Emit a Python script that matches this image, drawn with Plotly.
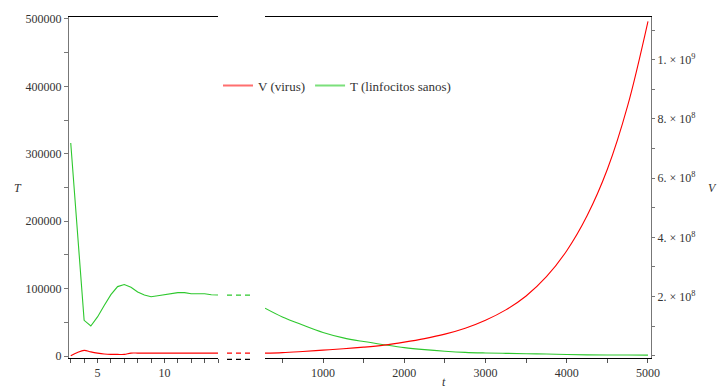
import plotly.graph_objects as go

# Early phase (days 3-14): healthy T lymphocytes and virus load
t_early = [3, 3.5, 4, 4.5, 5, 5.5, 6, 6.5, 7, 7.5, 8, 8.5, 9, 9.5, 10,
           10.5, 11, 11.5, 12, 12.5, 13, 13.5, 14]
T_early = [316000, 185000, 53000, 44500, 58000, 75000, 91000, 103000, 106000,
           102000, 95000, 90500, 88000, 89500, 91000, 92500, 94000, 94000,
           92500, 92500, 92500, 91000, 90500]
V_early = [0, 1.1e7, 1.8e7, 1.3e7, 9.0e6, 6.0e6, 4.6e6, 4.6e6, 4.6e6, 8.9e6,
           8.9e6, 8.9e6, 8.9e6, 8.9e6, 8.9e6, 8.9e6, 8.9e6, 8.9e6, 8.9e6,
           8.9e6, 8.9e6, 8.9e6, 8.9e6]

# Long-term phase (t up to 5000)
t_late = [286, 500, 750, 1000, 1250, 1500, 1750, 2000, 2250, 2500, 2750,
          3000, 3250, 3500, 3750, 4000, 4250, 4500, 4750, 5000]
T_late = [71000, 58000, 46000, 35000, 27000, 21500, 16800, 12500, 9500, 7200,
          5500, 4600, 4000, 3500, 3000, 2200, 1800, 1600, 1500, 1400]
V_late = [8.9e6, 1.06e7, 1.45e7, 1.9e7, 2.35e7, 2.9e7, 3.6e7, 4.6e7, 5.8e7,
          7.3e7, 9.3e7, 1.2e8, 1.55e8, 2.02e8, 2.67e8, 3.55e8, 4.73e8, 6.3e8,
          8.45e8, 1.13e9]

# Axis ticks
early_ticks = [5, 10]
late_ticks = [1000, 2000, 3000, 4000, 5000]
T_ticks = [0, 100000, 200000, 300000, 400000, 500000]
V_ticks = [2e8, 4e8, 6e8, 8e8, 1e9]
V_tick_text = ["2. × 10<sup>8</sup>", "4. × 10<sup>8</sup>", "6. × 10<sup>8</sup>",
               "8. × 10<sup>8</sup>", "1. × 10<sup>9</sup>"]

RED = "#ff0000"
GREEN = "#2ec82e"
FONT = "Liberation Serif, Times New Roman, serif"
TXT = "#333333"

fig = go.Figure()

# curves
fig.add_trace(go.Scatter(x=t_early, y=T_early, xaxis="x", yaxis="y", mode="lines",
                         line=dict(color=GREEN, width=1.1), showlegend=False))
fig.add_trace(go.Scatter(x=t_early, y=V_early, xaxis="x", yaxis="y2", mode="lines",
                         line=dict(color=RED, width=1.1, shape="spline"), showlegend=False))
fig.add_trace(go.Scatter(x=t_late, y=T_late, xaxis="x2", yaxis="y", mode="lines",
                         line=dict(color=GREEN, width=1.1, shape="spline"), showlegend=False))
fig.add_trace(go.Scatter(x=t_late, y=V_late, xaxis="x2", yaxis="y2", mode="lines",
                         line=dict(color=RED, width=1.1, shape="spline"), showlegend=False))

# dashed continuation across the axis break
fig.add_trace(go.Scatter(x=[0, 1], y=[T_early[-1]] * 2, xaxis="x3", yaxis="y", mode="lines",
                         line=dict(color=GREEN, width=1.3, dash="5px,4px"), showlegend=False))
fig.add_trace(go.Scatter(x=[0, 1], y=[V_early[-1]] * 2, xaxis="x3", yaxis="y2", mode="lines",
                         line=dict(color=RED, width=1.3, dash="5px,4px"), showlegend=False))

# legend entries
fig.add_trace(go.Scatter(x=[None], y=[None], xaxis="x2", yaxis="y2", mode="lines",
                         name="V (virus)", line=dict(color="#ff6f6f", width=2)))
fig.add_trace(go.Scatter(x=[None], y=[None], xaxis="x2", yaxis="y", mode="lines",
                         name="T (linfocitos sanos)", line=dict(color="#7be07b", width=2)))

L, R, TOP, B = 69, 74, 13, 31
W, H = 725, 392
pw = W - L - R
ph = H - TOP - B

def px_x(p):
    return (p - L) / pw

xcommon = dict(showgrid=False, zeroline=False, showline=True, linecolor="#000",
               linewidth=1, mirror=True, ticks="outside", ticklen=4, tickcolor="#555",
               tickformat="d")

fig.update_layout(
    width=W, height=H,
    margin=dict(l=L, r=R, t=TOP, b=B),
    paper_bgcolor="white", plot_bgcolor="white",
    font=dict(family=FONT, size=12, color=TXT),
    xaxis=dict(domain=[0, px_x(218)], range=[2.87, 14.0], anchor="y",
               tickvals=early_ticks, tickfont=dict(family=FONT, size=12, color=TXT),
               minor=dict(dtick=1, tick0=0, ticks="outside", ticklen=4, tickcolor="#555"),
               **xcommon),
    xaxis2=dict(domain=[px_x(265), 1], range=[286, 5037], anchor="y",
                tickvals=late_ticks, tickfont=dict(family=FONT, size=12, color=TXT),
                minor=dict(dtick=500, tick0=0, ticks="outside", ticklen=4, tickcolor="#555"),
                **xcommon),
    xaxis3=dict(domain=[px_x(227), px_x(251)], range=[0, 1], anchor="y", visible=False),
    yaxis=dict(range=[-2907, 502900], anchor="x", side="left",
               showgrid=False, zeroline=False, showline=True, linecolor="#777",
               ticks="outside", ticklen=4, tickcolor="#777", tickvals=T_ticks,
               tickformat="d",
               minor=dict(dtick=50000, tick0=0, ticks="outside", ticklen=4, tickcolor="#777"),
               tickfont=dict(family=FONT, size=12, color=TXT)),
    yaxis2=dict(range=[-7.6e6, 1.1446e9], anchor="x2", overlaying="y", side="right",
                showgrid=False, zeroline=False, showline=True, linecolor="#777",
                ticks="outside", ticklen=3, tickcolor="#777",
                tickvals=V_ticks, ticktext=V_tick_text,
                minor=dict(dtick=1e8, tick0=0, ticks="outside", ticklen=3, tickcolor="#777"),
                tickfont=dict(family=FONT, size=12, color=TXT)),
    legend=dict(orientation="h", x=px_x(218), xanchor="left", y=1 - (83 - TOP) / ph,
                yanchor="middle", bgcolor="rgba(0,0,0,0)",
                font=dict(family=FONT, size=13, color="#333")),
    showlegend=True,
)

# axis-break marker on the time axis
fig.add_shape(type="line", xref="paper", yref="paper", x0=px_x(227), x1=px_x(251),
              y0=-0.004, y1=-0.004, line=dict(color="#000", width=1.3, dash="5px,4px"))

# axis titles
title_font = dict(family=FONT, size=12, color="#333")
fig.add_annotation(text="<i>T</i>", xref="paper", yref="paper", x=0, y=0.5,
                   xshift=-57, showarrow=False, font=title_font)
fig.add_annotation(text="<i>V</i>", xref="paper", yref="paper", x=1, y=0.5,
                   xshift=68, showarrow=False, font=title_font)
fig.add_annotation(text="<i>t</i>", xref="x2", yref="paper", x=2490, y=0,
                   yanchor="middle", yshift=-24, showarrow=False, font=title_font)

fig.write_html("out.html")
